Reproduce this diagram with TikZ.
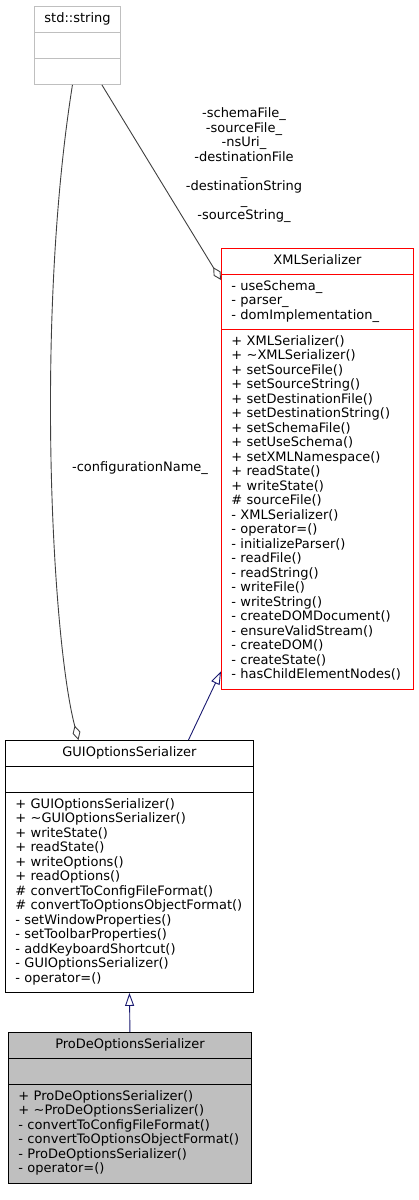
\documentclass[tikz,border=0pt]{standalone}
\usepackage{fontspec}
\setmainfont{DejaVu Sans}
\usetikzlibrary{shapes.multipart,arrows.meta}
\definecolor{edgegray}{HTML}{404040}
\definecolor{boxgray}{HTML}{BFBFBF}
\definecolor{inhblue}{HTML}{191970}
\hyphenpenalty=10000
\exhyphenpenalty=10000

\begin{document}
\begin{tikzpicture}[x=1pt,y=1pt,line width=0.9pt,font=\fontsize{13}{14.5}\selectfont]
  \tikzstyle{cls}=[rectangle split, rectangle split parts=3, draw=black, anchor=north west,
                   inner xsep=10pt, inner ysep=5.3pt, text=black, fill=white]
  \tikzstyle{lab}=[anchor=center, text=black, align=center, inner sep=0pt]
  \tikzstyle{agg}=[draw=edgegray, -{Diamond[open,length=15pt,width=8pt]}]
  \tikzstyle{inh}=[draw=inhblue, -{Triangle[open,length=13pt,width=9pt]}]

  \useasboundingbox (0,0) rectangle (419,-1200);

  \node[cls, draw=boxgray, text width=66pt] (str) at (34,-6)
    {\centering\strut std::string\par \nodepart{two}\strut \nodepart{three}\strut};

  \node[cls, draw=red, text width=172pt] (xml) at (221,-248)
    {\centering\strut XMLSerializer\par
     \nodepart{two}\strut- useSchema\_\\\strut- parser\_\\\strut- domImplementation\_
     \nodepart{three}\strut+ XMLSerializer()\\\strut+ \textasciitilde XMLSerializer()\\
     \strut+ setSourceFile()\\\strut+ setSourceString()\\\strut+ setDestinationFile()\\
     \strut+ setDestinationString()\\\strut+ setSchemaFile()\\\strut+ setUseSchema()\\
     \strut+ setXMLNamespace()\\\strut+ readState()\\\strut+ writeState()\\
     \strut\# sourceFile()\\\strut- XMLSerializer()\\\strut- operator=()\\
     \strut- initializeParser()\\\strut- readFile()\\\strut- readString()\\
     \strut- writeFile()\\\strut- writeString()\\\strut- createDOMDocument()\\
     \strut- ensureValidStream()\\\strut- createDOM()\\\strut- createState()\\
     \strut- hasChildElementNodes()};

  \node[cls, text width=228pt] (gui) at (5,-740)
    {\centering\strut GUIOptionsSerializer\par
     \nodepart{two}\strut
     \nodepart{three}\strut+ GUIOptionsSerializer()\\\strut+ \textasciitilde GUIOptionsSerializer()\\
     \strut+ writeState()\\\strut+ readState()\\\strut+ writeOptions()\\\strut+ readOptions()\\
     \strut\# convertToConfigFileFormat()\\\strut\# convertToOptionsObjectFormat()\\
     \strut- setWindowProperties()\\\strut- setToolbarProperties()\\
     \strut- addKeyboardShortcut()\\\strut- GUIOptionsSerializer()\\\strut- operator=()};

  \node[cls, fill=boxgray, text width=223pt] (prode) at (8,-1032)
    {\centering\strut ProDeOptionsSerializer\par
     \nodepart{two}\strut
     \nodepart{three}\strut+ ProDeOptionsSerializer()\\\strut+ \textasciitilde ProDeOptionsSerializer()\\
     \strut- convertToConfigFileFormat()\\\strut- convertToOptionsObjectFormat()\\
     \strut- ProDeOptionsSerializer()\\\strut- operator=()};

  % member labels
  \node[lab] (strxmllab) at (244,-165)
    {-schemaFile\_\\-sourceFile\_\\-nsUri\_\\-destinationFile\\\_\\-destinationString\\\_\\-sourceString\_};
  \node[lab] (strguilab) at (140,-468) {-configurationName\_};

  \path[agg] ([xshift=-5pt]str.south) .. controls (35,-320) and (52,-640) .. ([xshift=-51pt]gui.north);
  \path[agg] ([xshift=-19pt]str.south east) -- ([yshift=-32pt]xml.north west);
  \path[inh] ([xshift=59pt]gui.north) -- ([yshift=18pt]xml.south west);
  \path[inh] (prode.north) -- (gui.south);
\end{tikzpicture}
\end{document}
